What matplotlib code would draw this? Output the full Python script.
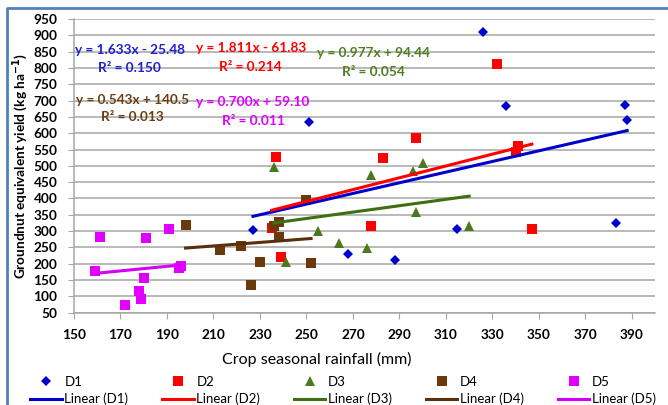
import matplotlib
matplotlib.use("Agg")
import matplotlib.pyplot as plt
from matplotlib.lines import Line2D
import numpy as np

plt.rcParams['font.family'] = ['Lato', 'DejaVu Sans']

# ---- data ----
d1_x = [227, 251, 268, 288, 315, 326, 336, 387, 388, 383]
d1_y = [303, 634, 229, 210, 307, 910, 683, 686, 642, 324]
d2_x = [237, 235, 239, 278, 283, 297, 332, 341, 340, 347]
d2_y = [528, 310, 220, 315, 523, 584, 811, 561, 543, 308]
d3_x = [236, 241, 255, 264, 276, 278, 296, 297, 300, 320]
d3_y = [497, 205, 299, 264, 247, 471, 485, 359, 508, 317]
d4_x = [198, 213, 222, 226, 230, 238, 238, 236, 252, 250]
d4_y = [318, 242, 254, 134, 206, 281, 328, 315, 201, 395]
d5_x = [159, 161, 172, 178, 179, 180, 181, 191, 195, 196]
d5_y = [178, 283, 75, 117, 93, 157, 278, 308, 186, 193]

slopes = [1.633, 1.811, 0.977, 0.543, 0.700]
intercepts = [-25.48, -61.83, 94.44, 140.5, 59.10]
eq_labels = ["y = 1.633x - 25.48", "y = 1.811x - 61.83", "y = 0.977x + 94.44",
             "y = 0.543x + 140.5", "y = 0.700x + 59.10"]
r2_labels = ["R² = 0.150", "R² = 0.214", "R² = 0.054", "R² = 0.013", "R² = 0.011"]
names = ["D1", "D2", "D3", "D4", "D5"]

xs = [d1_x, d2_x, d3_x, d4_x, d5_x]
ys = [d1_y, d2_y, d3_y, d4_y, d5_y]
markers = ['D', 's', '^', 's', 's']
msizes = [5, 7, 7, 7, 7]
mcolors = ['#0000CC', '#FF0000', '#4A7A1C', '#6B3A0C', '#E100FF']
lcolors = ['#0000CC', '#FF0000', '#3F6F12', '#5A300C', '#D300F5']
tcolors = ['#1F1FD0', '#FF0000', '#4F7F1F', '#6B3E12', '#E000FF']
# label anchor positions (data coords)
eq_pos = [(174, 855), (226, 861), (279, 846), (175, 702), (227, 696)]
r2_pos = [(174, 800), (226, 803), (279, 788), (175, 650), (227, 638)]

fig = plt.figure(figsize=(6.68, 4.05), dpi=100)
ax = fig.add_axes([0.1108, 0.2279, 0.8698, 0.7252])

handles = []
for i in range(5):
    pts, = ax.plot(xs[i], ys[i], linestyle='none', marker=markers[i], ms=msizes[i],
                   color=mcolors[i], markeredgewidth=0, label=names[i], zorder=3)
    xx = np.array([min(xs[i]), max(xs[i])])
    ln, = ax.plot(xx, slopes[i] * xx + intercepts[i], color=lcolors[i], lw=2.2,
                  label="Linear (%s)" % names[i], zorder=4)
    handles += [pts, ln]
    ax.text(*eq_pos[i], eq_labels[i], color=tcolors[i], fontsize=9.8,
            fontweight='bold', ha='center', va='center')
    ax.text(*r2_pos[i], r2_labels[i], color=tcolors[i], fontsize=9.8,
            fontweight='bold', ha='center', va='center')

ax.set_xlim(150, 400)
ax.set_ylim(50, 950)
ax.set_xticks(np.arange(150, 391, 20))
ax.set_yticks(np.arange(50, 951, 50))
ax.grid(axis='y', color='#A6A6A6', lw=1.1)
ax.set_axisbelow(True)
for s in ['top', 'right']:
    ax.spines[s].set_visible(False)
for s in ['left', 'bottom']:
    ax.spines[s].set_color('#A6A6A6')
    ax.spines[s].set_linewidth(1.1)
ax.tick_params(axis='both', colors='#A6A6A6', length=4, labelcolor='black',
               labelsize=9.8)
ax.tick_params(axis='x', pad=8)
ax.tick_params(axis='y', pad=8)
for lab in ax.get_xticklabels() + ax.get_yticklabels():
    lab.set_fontweight('bold')

ax.set_xlabel("Crop seasonal rainfall (mm)", fontsize=11.5)
ax.xaxis.set_label_coords(0.417, -0.132)
ax.set_ylabel("Groundnut equivalent yield (kg ha$^{\\mathbf{-1}}$)", fontsize=9.8,
              fontweight='bold')
ax.yaxis.set_label_coords(-0.076, 0.5)

fig.legend(handles=handles, ncol=5, loc='upper left',
           bbox_to_anchor=(30 / 668, 1 - 376 / 405), frameon=False,
           fontsize=9.5, handlelength=2.4, handletextpad=0.2,
           columnspacing=2.55, labelspacing=0.35, borderpad=0, borderaxespad=0)

# outer chart frame (top and left edges visible)
fig.add_artist(Line2D([7 / 668, 7 / 668, 1], [0, 1 - 8 / 405, 1 - 8 / 405],
                      color='#4F81BD', lw=2))

fig.savefig("out.png", dpi=100)
